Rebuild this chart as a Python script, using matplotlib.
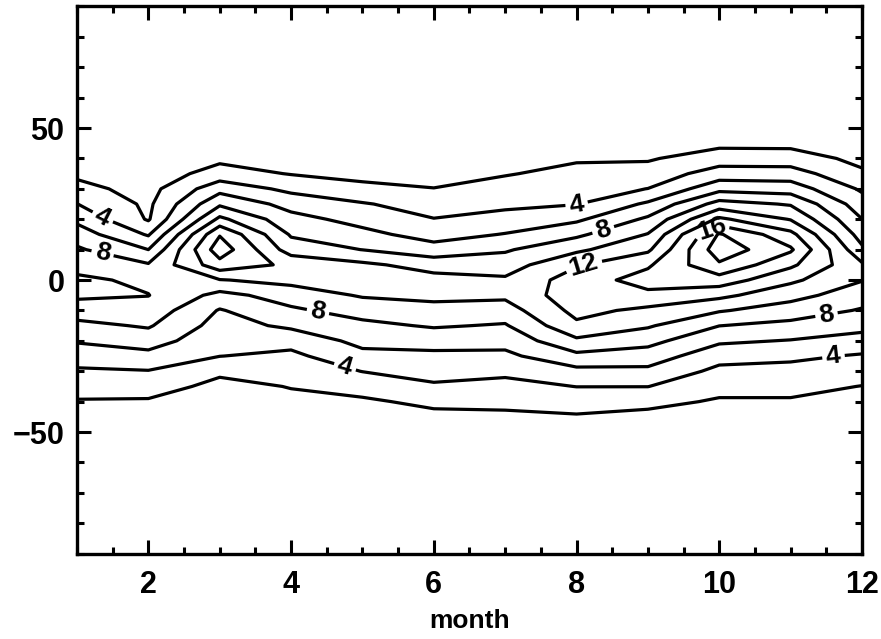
import numpy as np
import matplotlib
matplotlib.use("Agg")
import matplotlib.pyplot as plt
from matplotlib.ticker import MultipleLocator

plt.rcParams["axes.unicode_minus"] = True
plt.rcParams["font.family"] = ["Liberation Sans", "DejaVu Sans"]

months = np.arange(1, 13)
lats = [-90, -60, -50, -45, -40, -35, -30, -25, -20, -15, -10, -5, 0,
        5, 10, 15, 20, 25, 30, 35, 40, 45, 50, 60, 90]

# zonal means for each month, south -> north (same order as lats)
m01 = [0, 0.3, 0.7, 1.25, 1.86, 2.75, 3.73, 4.91, 6.18, 7.48, 8.94, 10.39, 10.39,
       9.31, 8.30, 7.0, 5.54, 4.03, 2.57, 1.64, 1.04, 0.8, 0.6, 0.3, 0]
m02 = [0, 0.3, 0.7, 1.2, 1.8, 2.79, 3.91, 5.39, 6.91, 8.21, 9.2, 10.05, 9.6,
       8.2, 6.0, 3.8, 1.8, 1.6, 1.3, 0.9, 0.6, 0.5, 0.4, 0.2, 0]
m03 = [0, 0.3, 0.7, 0.9, 1.1, 1.5, 2.33, 4.03, 4.62, 5.23, 5.85, 7.38, 9.9,
       13.2, 15.2, 13.85, 10.48, 7.67, 5.29, 2.79, 1.58, 1.1, 0.8, 0.4, 0]
m04 = [0, 0.3, 0.8, 1.2, 1.6, 2.07, 2.81, 3.54, 4.69, 6.37, 7.68, 8.9, 10.6,
       11.6, 9.0, 7.78, 6.67, 5.27, 3.5, 1.9, 1.3, 1.0, 0.8, 0.4, 0]
m05 = [0, 0.3, 0.6, 1.1, 1.7, 2.74, 4.04, 5.44, 6.57, 7.52, 8.77, 10.2, 10.95,
       10.4, 7.97, 6.56, 5.32, 4.18, 2.35, 1.6, 1.1, 0.8, 0.6, 0.3, 0]
m06 = [0, 0.3, 0.9, 1.5, 2.44, 3.74, 4.7, 5.57, 6.76, 8.2, 9.34, 10.5, 10.7,
       9.2, 6.8, 5.2, 4.07, 3.05, 2.04, 1.4, 0.9, 0.6, 0.5, 0.3, 0]
m07 = [0, 0.3, 0.9, 1.6, 2.51, 3.42, 4.41, 5.55, 6.68, 7.82, 9.1, 10.4, 10.3,
       9.05, 7.77, 6.1, 4.7, 3.57, 2.7, 1.88, 1.3, 0.9, 0.7, 0.3, 0]
m08 = [0, 0.3, 1.0, 1.8, 2.89, 4.03, 5.43, 7.5, 9.6, 11.6, 12.6, 13.2, 13.0,
       11.8, 9.6, 7.6, 5.64, 3.93, 3.2, 2.5, 1.8, 1.2, 0.8, 0.4, 0]
m09 = [0, 0.3, 0.9, 1.5, 2.5, 4.03, 5.54, 7.06, 8.63, 10.23, 11.53, 13.52, 14.8,
       13.73, 11.64, 10.1, 8.36, 6.33, 4.03, 2.81, 1.8, 1.3, 0.9, 0.4, 0]
m10 = [0, 0.3, 1.0, 1.4, 1.8, 2.56, 3.5, 4.73, 6.33, 8.03, 10.18, 12.5, 15.1,
       17.7, 19.2, 18.2, 14.4, 10.79, 7.39, 4.92, 3.02, 1.5, 1.0, 0.4, 0]
m11 = [0, 0.3, 1.0, 1.4, 1.8, 2.56, 3.39, 4.39, 5.9, 7.45, 9.05, 10.69, 12.4,
       14.4, 16.3, 14.6, 11.88, 9.82, 7.07, 4.92, 2.9, 1.5, 1.0, 0.4, 0]
m12 = [0, 0.3, 0.8, 1.2, 1.6, 1.95, 2.91, 3.8, 5.23, 6.61, 7.83, 8.92, 10.1,
       10.3, 8.4, 7.11, 6.03, 4.89, 3.71, 2.3, 1.5, 1.1, 0.8, 0.4, 0]

plain_levels = [2, 6, 10, 14, 18]
label_levels = [4, 8, 12, 16]

field = np.column_stack([m01, m02, m03, m04, m05, m06,
                         m07, m08, m09, m10, m11, m12])

fig = plt.figure(figsize=(8.81, 6.39), dpi=100)
ax = fig.add_axes([0.0874, 0.1336, 0.891, 0.8563])

ax.contour(months, lats, field, levels=plain_levels, colors="black",
           linewidths=2.3)
cs = ax.contour(months, lats, field, levels=label_levels, colors="black",
                linewidths=2.3)

# label spots picked along the curves
spots = [(1.39, 22), (1.36, 9), (4.38, -10), (4.75, -29), (8.0, 25),
         (8.4, 14.5), (8.1, 5), (9.87, 18), (11.5, -11), (11.6, -25)]
ax.clabel(cs, fmt="%d", fontsize=19, inline=True, inline_spacing=4,
          manual=spots)
for t in cs.labelTexts:
    t.set_fontweight("bold")

ax.set_xlim(1, 12)
ax.set_ylim(-90, 90)
ax.xaxis.set_major_locator(MultipleLocator(2))
ax.xaxis.set_minor_locator(MultipleLocator(0.5))
ax.set_yticks([-50, 0, 50])
ax.yaxis.set_minor_locator(MultipleLocator(10))
ax.tick_params(which="both", direction="in", top=True, right=True,
               width=2.2, labelsize=22)
ax.tick_params(axis="x", pad=12)
ax.tick_params(axis="y", pad=9)
ax.tick_params(which="major", length=10)
ax.tick_params(which="minor", length=5)
for lab in ax.get_xticklabels() + ax.get_yticklabels():
    lab.set_fontweight("bold")
for sp in ax.spines.values():
    sp.set_linewidth(2.4)
ax.set_xlabel("month", fontsize=19, fontweight="bold", labelpad=6)

fig.savefig("out.png", dpi=100)
